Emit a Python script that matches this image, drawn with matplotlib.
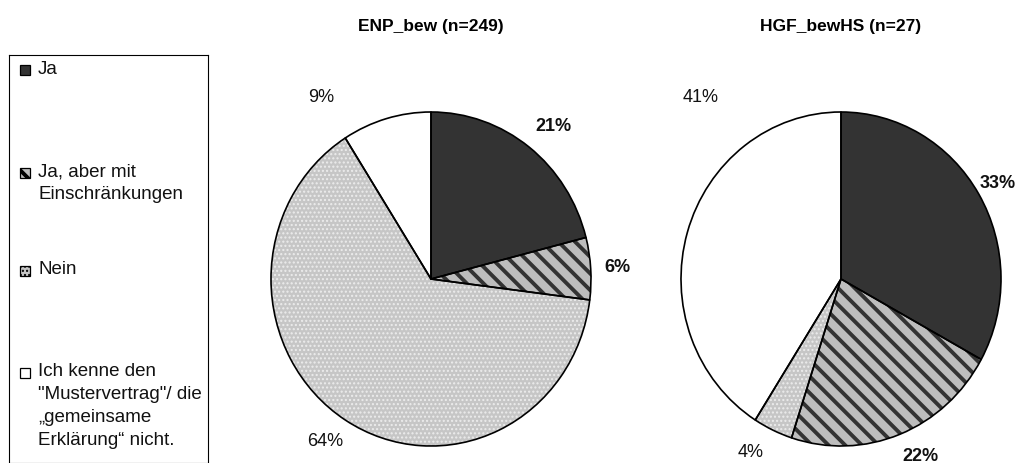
import numpy as np
import matplotlib.pyplot as plt
from matplotlib.patches import Rectangle, Wedge

plt.rcParams['font.family'] = ['Liberation Sans', 'DejaVu Sans']
plt.rcParams['hatch.linewidth'] = 2.8

# Daten
kategorien = ['Ja', 'Ja, aber mit\nEinschränkungen', 'Nein',
              'Ich kenne den\n"Mustervertrag"/ die\n„gemeinsame\nErklärung“ nicht.']
titel = ['ENP_bew (n=249)', 'HGF_bewHS (n=27)']
werte_enp = [21, 6, 64, 9]
werte_hgf = [33, 22, 4, 41]
fett = [True, True, False, False]

# Stil: Füllung, Schraffur, Schraffurfarbe
fuellung = ['#333333', '#bdbdbd', '#c6c6c6', '#ffffff']
schraffur = [None, '\\\\', '....', None]
schraffur_farbe = [None, '#333333', '#ececec', None]

# Beschriftungs-Positionen (Winkelversatz in Grad, Abstand)
lab_pos = [
    [(-2, 1.2), (0, 1.17), (-2, 1.17), (16, 1.29)],
    [(0, 1.14), (3.5, 1.17), (-3.5, 1.18), (-35, 1.4)],
]

fig = plt.figure(figsize=(10.28, 4.64), dpi=100)
W, H = 1028, 464
RX, RY = 160, 167


def duenne_punkte(p, h):
    # Punktmuster mit feinerer Linie, falls unterstützt
    if h and h.startswith('.') and hasattr(p, 'set_hatch_linewidth'):
        p.set_hatch_linewidth(1.0)


def zeichne_pie(cx, cy, werte, title, pos):
    ax = fig.add_axes([(cx - RX) / W, (H - cy - RY) / H, 2 * RX / W, 2 * RY / H])
    wedges, _ = ax.pie(werte, startangle=90, counterclock=False,
                       colors=fuellung, wedgeprops=dict(linewidth=0))
    # Schraffur, danach alle Umrisse darüber
    for w, h, hc in zip(wedges, schraffur, schraffur_farbe):
        w.set_clip_on(False)
        if h:
            w.set_hatch(h)
            w.set_edgecolor(hc)
            duenne_punkte(w, h)
    for w in wedges:
        ax.add_patch(Wedge(w.center, w.r, w.theta1, w.theta2,
                           facecolor='none', edgecolor='black',
                           linewidth=1.2, joinstyle='round', clip_on=False))
    total = sum(werte)
    start = 90.0
    for i, v in enumerate(werte):
        ang = v / total * 360
        mid = start - ang / 2
        start -= ang
        da, dist = pos[i]
        a = np.deg2rad(mid + da)
        ax.text(dist * np.cos(a), dist * np.sin(a), f'{v}%',
                ha='center', va='center', fontsize=13,
                fontweight='bold' if fett[i] else 'normal', color='#111111',
                clip_on=False)
    ax.set_xlim(-1, 1)
    ax.set_ylim(-1, 1)
    ax.set_aspect('auto')
    ax.axis('off')
    fig.text(cx / W, 1 - 27 / H, title, ha='center', va='center',
             fontsize=12.5, fontweight='bold')


zeichne_pie(431, 280, werte_enp, titel[0], lab_pos[0])
zeichne_pie(841, 280, werte_hgf, titel[1], lab_pos[1])

# Legende
lx, ly, lw = 9, 56, 199
lax = fig.add_axes([lx / W, 0, lw / W, (H - ly) / H])
lax.set_xlim(0, lw)
lax.set_ylim(H - ly, 0)
lax.set_xticks([])
lax.set_yticks([])
for s in lax.spines.values():
    s.set_linewidth(0.8)
zeilen_y = [15, 118, 216, 318]
for i, kat in enumerate(kategorien):
    y = zeilen_y[i]
    r = Rectangle((11, y - 5), 10, 10, facecolor=fuellung[i],
                  hatch=schraffur[i] if schraffur[i] else None,
                  edgecolor='black', linewidth=0.9)
    duenne_punkte(r, schraffur[i])
    lax.add_patch(r)
    lax.text(29, y - 10.5, kat, ha='left', va='top', fontsize=13.5,
             linespacing=1.45, color='#111111')

fig.savefig('out.png', dpi=100)
